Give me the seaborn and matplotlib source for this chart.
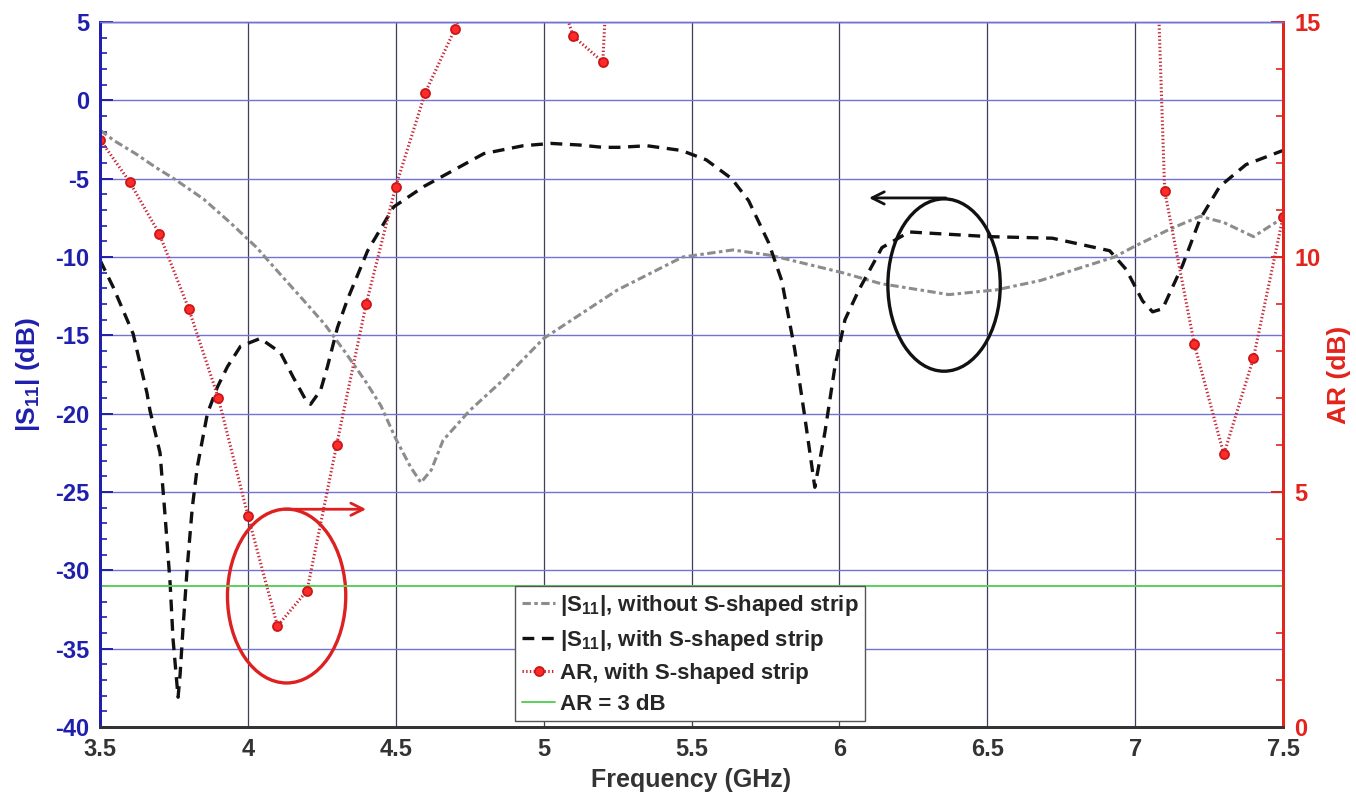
import numpy as np
import matplotlib
matplotlib.use("Agg")
import matplotlib.pyplot as plt
from matplotlib.patches import Ellipse
from matplotlib.ticker import MultipleLocator
import seaborn as sns

# |S11| without the S-shaped strip (GHz, dB)
freq_plain = [3.50, 3.55, 3.62, 3.69, 3.75, 3.85, 3.94, 4.03, 4.10, 4.19, 4.26, 4.33,
              4.40, 4.45, 4.50, 4.55, 4.585, 4.62, 4.66, 4.75, 4.86, 5.00, 5.25, 5.47,
              5.64, 5.77, 6.01, 6.14, 6.37, 6.53, 6.68, 6.93, 7.00, 7.12, 7.22, 7.30,
              7.40, 7.50]
s11_plain = [-1.9, -2.6, -3.4, -4.3, -5.0, -6.3, -7.8, -9.4, -10.9, -12.8, -14.3, -16.1,
             -18.0, -19.5, -21.6, -23.4, -24.4, -23.6, -21.7, -19.8, -17.9, -15.2, -12.1,
             -10.0, -9.55, -9.9, -11.0, -11.7, -12.4, -12.1, -11.5, -10.0, -9.3, -8.2,
             -7.4, -7.8, -8.7, -7.5]

# |S11| with the S-shaped strip (GHz, dB)
freq_strip = [3.50, 3.544, 3.612, 3.659, 3.669, 3.703, 3.72, 3.737, 3.747, 3.764, 3.771,
              3.781, 3.795, 3.812, 3.829, 3.846, 3.863, 3.897, 3.931, 3.975, 4.042, 4.11,
              4.154, 4.195, 4.212, 4.246, 4.269, 4.303, 4.337, 4.405, 4.493, 4.595, 4.798,
              4.93, 5.025, 5.12, 5.20, 5.253, 5.35, 5.466, 5.55, 5.636, 5.693, 5.761,
              5.805, 5.849, 5.883, 5.917, 5.951, 5.985, 6.019, 6.066, 6.144, 6.236, 6.324,
              6.507, 6.72, 6.914, 6.97, 7.025, 7.059, 7.093, 7.127, 7.161, 7.219, 7.286,
              7.375, 7.50]
s11_strip = [-10.2, -11.9, -14.9, -18.7, -19.8, -22.5, -26.5, -30.8, -34.4, -38.1, -36.6,
             -33.6, -29.8, -26.0, -23.4, -21.7, -20.0, -18.3, -17.0, -15.7, -15.2, -16.1,
             -17.7, -19.1, -19.4, -18.5, -17.0, -14.5, -12.7, -9.6, -6.8, -5.5, -3.4,
             -2.9, -2.75, -2.85, -3.0, -3.0, -2.9, -3.2, -3.8, -5.0, -6.4, -9.1,
             -11.5, -15.9, -20.2, -24.7, -21.2, -17.0, -14.0, -12.1, -9.4, -8.4, -8.5,
             -8.7, -8.8, -9.6, -10.8, -12.8, -13.5, -13.3, -11.9, -10.5, -7.6, -5.5,
             -4.1, -3.2]

# Axial ratio with the S-shaped strip (GHz, dB); nan where the curve runs far above 15 dB
freq_ar = [3.5, 3.6, 3.7, 3.8, 3.9, 4.0, 4.1, 4.2, 4.3, 4.4, 4.5, 4.6, 4.7, 4.8, 4.9,
           5.0, 5.1, 5.2, 5.3, 5.4, 5.5, 5.6, 5.7, 5.8, 5.9, 6.0, 6.1, 6.2, 6.3, 6.4,
           6.5, 6.6, 6.7, 6.8, 6.9, 7.0, 7.1, 7.2, 7.3, 7.4, 7.5]
nan = np.nan
ar_vals = [12.5, 11.6, 10.5, 8.9, 7.0, 4.5, 2.15, 2.9, 6.0, 9.0, 11.5, 13.5, 14.85, 16.5, nan,
           16.6, 14.7, 14.15, 26.5, nan, nan, nan, nan, nan, nan, nan, nan, nan, nan, nan,
           nan, nan, nan, nan, nan, 30.2, 11.4, 8.15, 5.8, 7.85, 10.85]

ar_ref = 3.0

x_ticks = [3.5, 4, 4.5, 5, 5.5, 6, 6.5, 7, 7.5]
x_ticklabels = ["3.5", "4", "4.5", "5", "5.5", "6", "6.5", "7", "7.5"]
s11_ticks = [5, 0, -5, -10, -15, -20, -25, -30, -35, -40]
ar_ticks = [0, 5, 10, 15]

legend_labels = [r"$\mathbf{|S_{11}|}$, without S-shaped strip",
                 r"$\mathbf{|S_{11}|}$, with S-shaped strip",
                 "AR, with S-shaped strip",
                 "AR = 3 dB"]

sns.set_style("white")
plt.rcParams["lines.scale_dashes"] = False
plt.rcParams["axes.unicode_minus"] = False
plt.rcParams["mathtext.fontset"] = "custom"
plt.rcParams["mathtext.rm"] = "Liberation Sans"
plt.rcParams["mathtext.bf"] = "Liberation Sans:bold"
plt.rcParams["mathtext.it"] = "Liberation Sans:italic"
plt.rcParams["font.family"] = ["Liberation Sans", "DejaVu Sans"]

BLUE = "#1f1fae"
RED = "#e3231c"
DARK = "#333333"
HGRID = "#7272d6"
VGRID = "#3e3e58"

fig = plt.figure(figsize=(13.56, 7.95), dpi=100)
ax = fig.add_axes([100 / 1356, 1 - 727 / 795, 1183 / 1356, 705 / 795])
ax2 = ax.twinx()

# grid
ax.set_axisbelow(True)
ax.yaxis.grid(True, color=HGRID, lw=1.0)
ax.xaxis.grid(True, color=VGRID, lw=0.9)

sns.lineplot(x=freq_plain, y=s11_plain, ax=ax, color="#8c8c8c", lw=2.2,
             sort=False, estimator=None)
line_plain = ax.lines[-1]
line_plain.set_dashes((6, 2.5, 2.5, 2.5))

sns.lineplot(x=freq_strip, y=s11_strip, ax=ax, color="#111111", lw=2.4,
             sort=False, estimator=None)
line_strip = ax.lines[-1]
line_strip.set_dashes((8.5, 5.5))

# annotation ellipses and arrows
ax.add_patch(Ellipse((4.131, -31.64), 0.40, 11.1, fill=False, ec="#dd2020", lw=2.4, zorder=4))
ax.annotate("", xy=(4.40, -26.1), xytext=(4.125, -26.1),
            arrowprops=dict(arrowstyle="->", color="#dd2020", lw=2.0,
                            shrinkA=0, shrinkB=0, mutation_scale=22), zorder=4)
ax.add_patch(Ellipse((6.354, -11.79), 0.38, 11.0, fill=False, ec="#111111", lw=2.4, zorder=4))
ax.annotate("", xy=(6.10, -6.23), xytext=(6.36, -6.23),
            arrowprops=dict(arrowstyle="->", color="#111111", lw=2.0,
                            shrinkA=0, shrinkB=0, mutation_scale=22), zorder=4)

ax2.axhline(ar_ref, color="#5bd05b", lw=1.4)
line_ref = ax2.lines[-1]
sns.lineplot(x=freq_ar, y=ar_vals, ax=ax2, color="#c82838", lw=2.2, linestyle=":",
             marker="o", markersize=6.5, markerfacecolor="#ff2a2a",
             markeredgecolor="#c81818", markeredgewidth=1.3,
             sort=False, estimator=None)
line_ar = ax2.lines[-1]

# axes ranges and ticks
ax.set_xlim(3.5, 7.5)
ax.set_ylim(-40, 5)
ax2.set_ylim(0, 15)
ax.set_xticks(x_ticks)
ax.set_xticklabels(x_ticklabels)
ax.set_yticks(s11_ticks)
ax2.set_yticks(ar_ticks)
ax.xaxis.set_minor_locator(MultipleLocator(0.1))
ax.yaxis.set_minor_locator(MultipleLocator(1))
ax2.yaxis.set_minor_locator(MultipleLocator(1))

tick_font = dict(family="Liberation Sans", weight="bold", size=17)
for lab in ax.get_xticklabels():
    lab.set_fontproperties(tick_font)
    lab.set_color(DARK)
for lab in ax.get_yticklabels():
    lab.set_fontproperties(tick_font)
    lab.set_color(BLUE)
for lab in ax2.get_yticklabels():
    lab.set_fontproperties(tick_font)
    lab.set_color(RED)

ax.tick_params(axis="x", which="major", direction="in", length=9, width=1.4, color=DARK, pad=8,
               top=False)
ax.tick_params(axis="x", which="minor", direction="in", length=5, width=1.2, color=DARK,
               top=False)
ax.tick_params(axis="y", which="major", direction="in", length=9, width=1.4, color=BLUE, pad=8)
ax.tick_params(axis="y", which="minor", direction="in", length=5, width=1.2, color=BLUE)
ax2.tick_params(axis="y", which="major", direction="in", length=9, width=1.4, color=RED, pad=8)
ax2.tick_params(axis="y", which="minor", direction="in", length=5, width=1.2, color=RED)

for a in (ax, ax2):
    a.spines["left"].set_color(BLUE)
    a.spines["left"].set_linewidth(2.0)
    a.spines["right"].set_color(RED)
    a.spines["right"].set_linewidth(2.0)
    a.spines["bottom"].set_color(DARK)
    a.spines["bottom"].set_linewidth(2.0)
    a.spines["top"].set_color(HGRID)
    a.spines["top"].set_linewidth(1.0)

ax.set_xlabel("Frequency (GHz)", color=DARK, family="Liberation Sans", weight="bold", size=18)
ax.xaxis.set_label_coords(0.5, -0.058)
ax.set_ylabel(r"$\mathbf{|S_{11}|}$ (dB)", color=BLUE, family="Liberation Sans",
              weight="bold", size=19)
ax.yaxis.set_label_coords(-0.049, 0.5)
ax2.set_ylabel("AR (dB)", color=RED, family="Liberation Sans", weight="bold", size=19)
ax2.yaxis.set_label_coords(1.037, 0.5)

leg = ax2.legend([line_plain, line_strip, line_ar, line_ref], legend_labels,
                 loc="lower left", bbox_to_anchor=(0.351, 0.008), frameon=True,
                 fancybox=False, edgecolor="#555555", framealpha=1.0,
                 prop=dict(family="Liberation Sans", weight="bold", size=16),
                 handlelength=1.5, handletextpad=0.2, borderpad=0.3, labelspacing=0.45,
                 borderaxespad=0.0)
leg.get_frame().set_linewidth(1.0)

fig.savefig("out.png", dpi=100, facecolor="white")
